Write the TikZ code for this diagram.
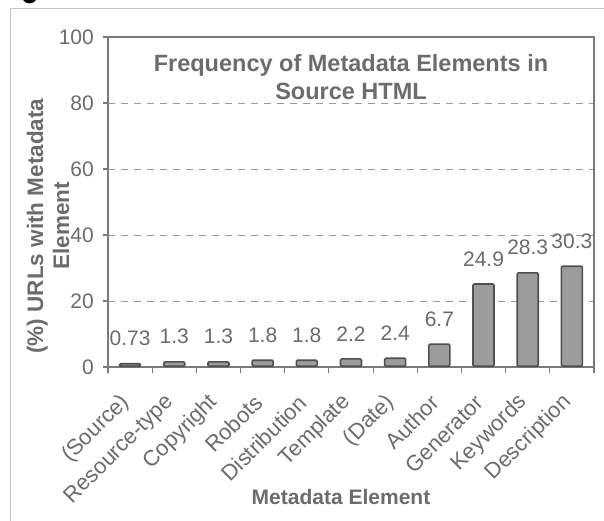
\documentclass[tikz,border=0pt]{standalone}
\usepackage{fontspec}
\setmainfont{Liberation Sans}
\definecolor{txt}{HTML}{6C6C6C}
\definecolor{axisc}{HTML}{7A7A7A}
\definecolor{gridc}{HTML}{9A9A9A}
\definecolor{barfill}{HTML}{9C9C9C}
\definecolor{barline}{HTML}{505050}
\definecolor{framec}{HTML}{C8C8C8}
\tikzset{
  ticklab/.style={text=txt, inner sep=0pt, font=\fontsize{21pt}{25pt}\selectfont},
  vallab/.style={text=txt, inner sep=0pt, font=\fontsize{21pt}{25pt}\selectfont},
  catlab/.style={text=txt, inner sep=0pt, font=\fontsize{22pt}{26pt}\selectfont},
  axtitle/.style={text=txt, inner sep=0pt, font=\fontsize{21pt}{26pt}\selectfont\bfseries},
  ytitlestyle/.style={text=txt, inner sep=0pt, font=\fontsize{22.5pt}{26pt}\selectfont\bfseries},
  titlestyle/.style={text=txt, inner sep=0pt, font=\fontsize{23.5pt}{28pt}\selectfont\bfseries},
  barbox/.style={draw=barline, fill=barfill, line width=1.6pt, rounded corners=1.2pt, inner sep=0pt, minimum width=21pt},
  gridline/.style={draw=gridc, line width=0.9pt, dash pattern=on 7pt off 6pt},
  axisline/.style={draw=axisc, line width=1.1pt},
}
\begin{document}
\begin{tikzpicture}[x=1pt,y=-1pt]
\useasboundingbox (0,0) rectangle (604,521);
\fill[white] (0,0) rectangle (604,521);
% outer frame and caption remnant
\draw[framec, line width=1pt] (10,521) -- (10,9) -- (604,9);
\fill[black] (23,0) .. controls (25,4.5) and (34,4.5) .. (36,0) -- cycle;
% grid
\foreach \g in {20,40,60,80}{
  \draw[gridline] (108,{367-\g*3.3}) -- (594,{367-\g*3.3});
}
% plot frame
\draw[axisline] (108,37) -- (594,37) -- (594,367);
\draw[axisline] (108,37) -- (108,367) -- (594,367);
% y ticks and labels
\foreach \g in {0,20,40,60,80,100}{
  \draw[axisline] (103,{367-\g*3.3}) -- (108,{367-\g*3.3});
  \node[ticklab, anchor=east] (yt\g) at (94,{367-\g*3.3}) {\g};
}
% x ticks
\foreach \k in {0,...,11}{
  \draw[axisline] ({108+44.18*\k},367) -- ({108+44.18*\k},373);
}
% bars
\foreach \i/\v/\n in {0/0.73/{(Source)},1/1.3/{Resource-type},2/1.3/{Copyright},3/1.8/{Robots},4/1.8/{Distribution},5/2.2/{Template},6/2.4/{(Date)},7/6.7/{Author},8/24.9/{Generator},9/28.3/{Keywords},10/30.3/{Description}}{
  \pgfmathsetmacro\xc{108+44.18*(\i+0.5)}
  \pgfmathsetmacro\hh{\v*3.3}
  \node[barbox, minimum height=\hh pt, anchor=south] (bar\i) at (\xc,367) {};
  \node[vallab] (val\i) at (\xc,{367-\hh-26}) {\v};
  \node[catlab, anchor=east, rotate=45] (cat\i) at ({\xc-4},399) {\n};
}
% titles
\node[titlestyle, align=center] (title) at (351,77) {Frequency of Metadata Elements in\\Source HTML};
\node[ytitlestyle, rotate=90, align=center] (ytitle) at (48,226) {(\%) URLs with Metadata\\Element};
\node[axtitle] (xtitle) at (341,497) {Metadata Element};
\end{tikzpicture}
\end{document}
